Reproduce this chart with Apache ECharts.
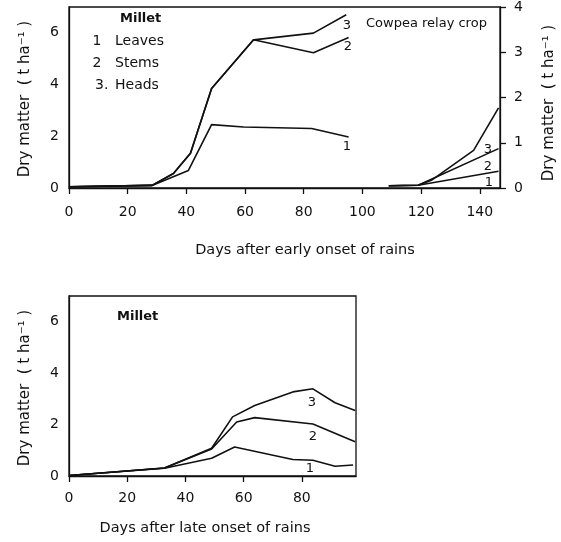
<!DOCTYPE html>
<html>
<head>
<meta charset="utf-8">
<title>Millet dry matter</title>
<script src="https://cdn.jsdelivr.net/npm/echarts@6/dist/echarts.min.js"></script>
<style>
  html, body { margin: 0; padding: 0; background: #fff; }
  #chart { width: 561px; height: 542px; }
</style>
</head>
<body>
<div id="chart"></div>
<script>
// early onset: millet (left axis, t/ha, cumulative curves)
const earlyLeavesDays = [0, 28.3, 40.7, 48.6, 59.5, 82.7, 95.3]
const earlyLeaves = [0.05, 0.1, 0.68, 2.45, 2.36, 2.3, 1.97]
const earlyStemsDays = [0, 28.3, 35.6, 41.4, 48.6, 62.9, 83.3, 95.3]
const earlyStems = [0.05, 0.1, 0.56, 1.34, 3.85, 5.73, 5.23, 5.82]
const earlyHeadsDays = [0, 28.3, 35.6, 41.4, 48.6, 62.9, 83.3, 94.5]
const earlyHeads = [0.05, 0.1, 0.56, 1.34, 3.85, 5.73, 5.99, 6.7]

// cowpea relay crop (right axis)
const cowpeaDays = [109, 119, 146.4]
const cowpeaLeaves = [0.05, 0.06, 0.37]
const cowpeaStems = [0.05, 0.06, 0.87]
const cowpeaHeadsDays = [109, 119, 123.5, 137.9, 146.4]
const cowpeaHeads = [0.05, 0.06, 0.17, 0.83, 1.77]

// late onset: millet
const lateLeavesDays = [0, 32.8, 49, 56.9, 76.9, 83.8, 91.4, 97.6]
const lateLeaves = [0.02, 0.3, 0.69, 1.13, 0.64, 0.61, 0.38, 0.43]
const lateStemsDays = [0, 32.8, 49, 57.6, 63.8, 83.8, 98.3]
const lateStems = [0.02, 0.31, 1.05, 2.1, 2.27, 2.02, 1.33]
const lateHeadsDays = [0, 32.8, 49, 56.2, 63.8, 76.9, 83.8, 91.4, 98.3]
const lateHeads = [0.02, 0.31, 1.08, 2.3, 2.74, 3.27, 3.39, 2.85, 2.55]

const earlyTicks = [0, 20, 40, 60, 80, 100, 120, 140]
const lateTicks = [0, 20, 40, 60, 80]
const leftTicks = [0, 2, 4, 6]
const rightTicks = [0, 1, 2, 3, 4]

const FONT = 'DejaVu Sans'
const INK = '#111'

const zip = (xs, ys) => xs.map((x, i) => [x, ys[i]])

const lineSeries = (xs, ys, xi, yi) => ({
  type: 'line',
  data: zip(xs, ys),
  xAxisIndex: xi,
  yAxisIndex: yi,
  symbol: 'none',
  silent: true,
  lineStyle: { color: INK, width: 1.6 }
})

const xAxisBase = (grid, max, ticks, margin) => ({
  gridIndex: grid,
  type: 'value',
  min: 0,
  max: max,
  axisLine: { lineStyle: { color: INK, width: 1.3 } },
  axisTick: { customValues: ticks, length: 6, lineStyle: { color: INK, width: 1.3 } },
  axisLabel: { customValues: ticks, color: INK, fontSize: 14, fontFamily: FONT, margin: margin },
  splitLine: { show: false }
})

const yAxisBase = (grid, max, ticks, pos) => ({
  gridIndex: grid,
  type: 'value',
  position: pos,
  min: 0,
  max: max,
  axisLine: { show: true, lineStyle: { color: INK, width: 1.3 } },
  axisTick: { show: pos === 'right', customValues: ticks, length: 6, lineStyle: { color: INK, width: 1.3 } },
  axisLabel: { customValues: ticks, color: INK, fontSize: 14, fontFamily: FONT, margin: pos === 'right' ? 14 : 10 },
  splitLine: { show: false }
})

const txt = (text, x, y, opts = {}) => ({
  type: 'text',
  x: x,
  y: y,
  rotation: opts.rotation || 0,
  silent: true,
  style: {
    text: text,
    fill: INK,
    font: (opts.weight || 'normal') + ' ' + (opts.size || 14) + 'px "' + FONT + '"',
    align: opts.align || 'left',
    verticalAlign: 'middle',
    textAlign: opts.align || 'left',
    textVerticalAlign: 'middle'
  }
})

const yTitle = 'Dry matter  ( t ha\u207B\u00B9 )'

const option = {
  animation: false,
  backgroundColor: '#fff',
  grid: [
    { left: 69, top: 6, width: 431, height: 182, show: true, borderColor: INK, borderWidth: 1.3 },
    { left: 69, top: 296, width: 287, height: 180, show: true, borderColor: INK, borderWidth: 1.3 }
  ],
  xAxis: [
    xAxisBase(0, 146.9, earlyTicks, 17),
    xAxisBase(1, 98.6, lateTicks, 15)
  ],
  yAxis: [
    yAxisBase(0, 7, leftTicks, 'left'),
    yAxisBase(0, 4, rightTicks, 'right'),
    yAxisBase(1, 7, leftTicks, 'left')
  ],
  series: [
    lineSeries(earlyLeavesDays, earlyLeaves, 0, 0),
    lineSeries(earlyStemsDays, earlyStems, 0, 0),
    lineSeries(earlyHeadsDays, earlyHeads, 0, 0),
    lineSeries(cowpeaDays, cowpeaLeaves, 0, 1),
    lineSeries(cowpeaDays, cowpeaStems, 0, 1),
    lineSeries(cowpeaHeadsDays, cowpeaHeads, 0, 1),
    lineSeries(lateLeavesDays, lateLeaves, 1, 2),
    lineSeries(lateStemsDays, lateStems, 1, 2),
    lineSeries(lateHeadsDays, lateHeads, 1, 2)
  ],
  graphic: [
    // axis titles
    txt(yTitle, 25, 99, { rotation: Math.PI / 2, align: 'center', size: 15 }),
    txt(yTitle, 549, 103, { rotation: Math.PI / 2, align: 'center', size: 15 }),
    txt(yTitle, 25, 388, { rotation: Math.PI / 2, align: 'center', size: 15 }),
    txt('Days after early onset of rains', 305, 250, { align: 'center', size: 14.5 }),
    txt('Days after late onset of rains', 205, 528, { align: 'center', size: 14.5 }),
    // key, top panel
    txt('Millet', 120, 19, { weight: 'bold', size: 13 }),
    txt('1', 97, 41, { align: 'center' }),
    txt('Leaves', 115, 41),
    txt('2', 97, 63, { align: 'center' }),
    txt('Stems', 115, 63),
    txt('3.', 95, 85),
    txt('Heads', 115, 85),
    txt('Cowpea relay crop', 366, 24, { size: 13 }),
    // curve numbers
    txt('3', 347, 26, { align: 'center', size: 13 }),
    txt('2', 348, 47, { align: 'center', size: 13 }),
    txt('1', 347, 147, { align: 'center', size: 13 }),
    txt('3', 488, 150, { align: 'center', size: 13 }),
    txt('2', 488, 167, { align: 'center', size: 13 }),
    txt('1', 489, 183, { align: 'center', size: 13 }),
    // bottom panel
    txt('Millet', 117, 317, { weight: 'bold', size: 13 }),
    txt('3', 312, 403, { align: 'center', size: 13 }),
    txt('2', 313, 437, { align: 'center', size: 13 }),
    txt('1', 310, 469, { align: 'center', size: 13 })
  ]
}

const chartInstance = echarts.init(document.getElementById('chart'))
chartInstance.setOption(option)

window.addEventListener('resize', () => {
  chartInstance.resize()
})
</script>
</body>
</html>
